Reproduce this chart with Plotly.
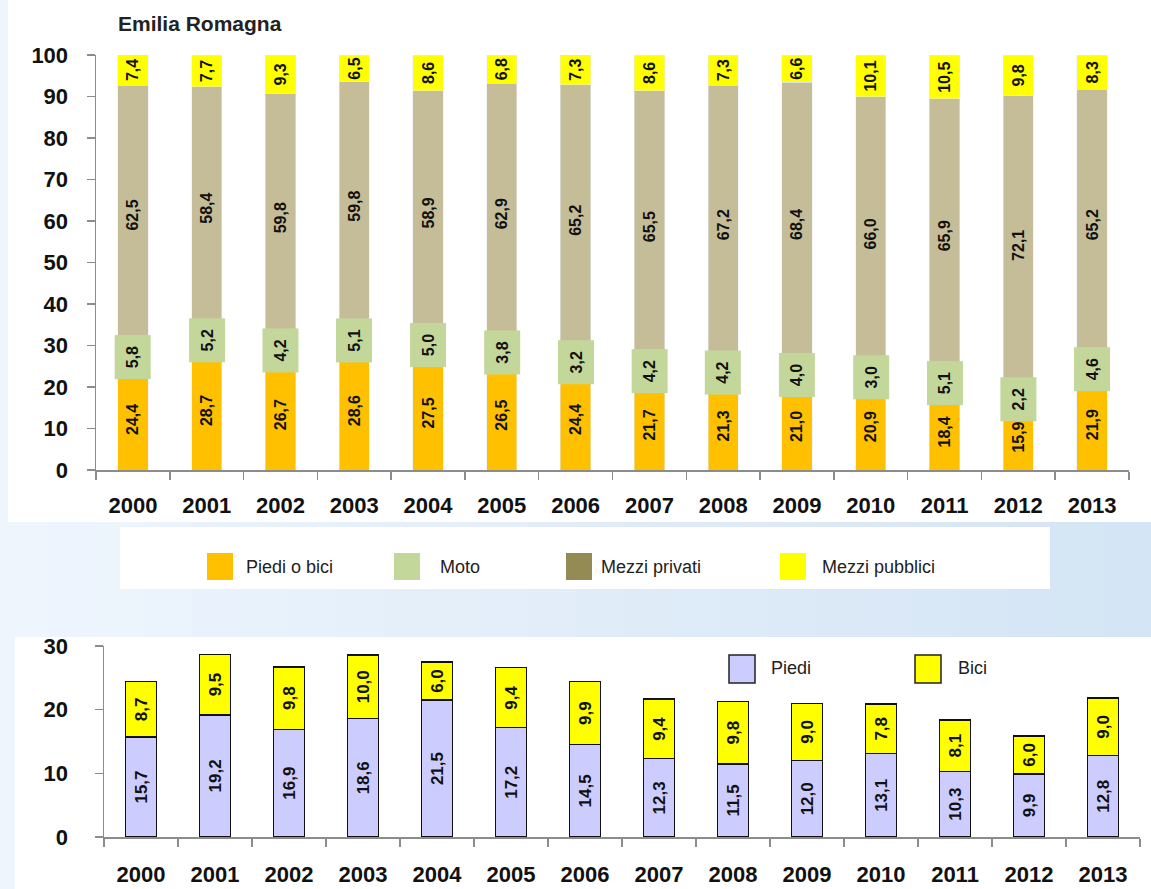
import plotly.graph_objects as go

W, H = 1151, 889

years = [str(y) for y in range(2000, 2014)]

# Top chart (Emilia Romagna) - % shares
piedi_o_bici = [24.4, 28.7, 26.7, 28.6, 27.5, 26.5, 24.4, 21.7, 21.3, 21.0, 20.9, 18.4, 15.9, 21.9]
moto = [5.8, 5.2, 4.2, 5.1, 5.0, 3.8, 3.2, 4.2, 4.2, 4.0, 3.0, 5.1, 2.2, 4.6]
mezzi_privati = [62.5, 58.4, 59.8, 59.8, 58.9, 62.9, 65.2, 65.5, 67.2, 68.4, 66.0, 65.9, 72.1, 65.2]
mezzi_pubblici = [7.4, 7.7, 9.3, 6.5, 8.6, 6.8, 7.3, 8.6, 7.3, 6.6, 10.1, 10.5, 9.8, 8.3]

# Bottom chart - split of Piedi o bici
piedi = [15.7, 19.2, 16.9, 18.6, 21.5, 17.2, 14.5, 12.3, 11.5, 12.0, 13.1, 10.3, 9.9, 12.8]
bici = [8.7, 9.5, 9.8, 10.0, 6.0, 9.4, 9.9, 9.4, 9.8, 9.0, 7.8, 8.1, 6.0, 9.0]

top_legend = ["Piedi o bici", "Moto", "Mezzi privati", "Mezzi pubblici"]
bottom_legend = ["Piedi", "Bici"]
title_text = "Emilia Romagna"

C_ORANGE = "#FFC000"
C_GREEN = "#C4D79B"
C_BEIGE = "#C4BD97"
C_OLIVE = "#948A54"
C_YELLOW = "#FFFF00"
C_LAV = "#CCCCFF"

FONT = "Liberation Sans, Arial, sans-serif"


def fmt(v):
    return f"{v:.1f}".replace(".", ",")


def px(x):
    return x / W


def py(y):
    return 1 - y / H


fig = go.Figure()

lab_font = dict(family=FONT, size=16, color="#111", weight="bold")
lab_font2 = dict(family=FONT, size=17, color="#111", weight="bold")

# --- top stacked bars ---
fig.add_trace(go.Bar(x=years, y=piedi_o_bici, marker_color=C_ORANGE, width=0.41,
                     text=[fmt(v) for v in piedi_o_bici], textangle=-90,
                     textposition="inside", insidetextanchor="middle",
                     textfont=lab_font, xaxis="x", yaxis="y", showlegend=False))
fig.add_trace(go.Bar(x=years, y=moto, marker_color=C_GREEN, width=0.41,
                     xaxis="x", yaxis="y", showlegend=False))
fig.add_trace(go.Bar(x=years, y=mezzi_privati, marker_color=C_BEIGE, width=0.41,
                     text=[fmt(v) for v in mezzi_privati], textangle=-90,
                     textposition="inside", insidetextanchor="middle",
                     textfont=lab_font, xaxis="x", yaxis="y", showlegend=False))
fig.add_trace(go.Bar(x=years, y=mezzi_pubblici, marker_color=C_YELLOW, width=0.41,
                     text=[fmt(v) for v in mezzi_pubblici], textangle=-90,
                     textposition="inside", insidetextanchor="middle",
                     textfont=lab_font, xaxis="x", yaxis="y", showlegend=False))

# --- bottom stacked bars ---
fig.add_trace(go.Bar(x=years, y=piedi, marker=dict(color=C_LAV, line=dict(color="#111", width=1.5)),
                     width=0.42, text=[fmt(v) for v in piedi], textangle=-90,
                     textposition="inside", insidetextanchor="middle",
                     textfont=lab_font2, xaxis="x2", yaxis="y2", showlegend=False))
fig.add_trace(go.Bar(x=years, y=bici, marker=dict(color=C_YELLOW, line=dict(color="#111", width=1.5)),
                     width=0.42, text=[fmt(v) for v in bici], textangle=-90,
                     textposition="inside", insidetextanchor="middle",
                     textfont=lab_font2, xaxis="x2", yaxis="y2", showlegend=False))

annotations = []
# Moto labels with green background boxes (Excel-style data labels)
for i, (pb, m) in enumerate(zip(piedi_o_bici, moto)):
    annotations.append(dict(x=i, y=pb + m / 2, xref="x", yref="y", text=fmt(m),
                            textangle=-90, showarrow=False, bgcolor=C_GREEN,
                            width=41, height=33, borderpad=1,
                            font=lab_font))

# Title
annotations.append(dict(x=px(116), y=py(23), xref="paper", yref="paper", text=title_text,
                        showarrow=False, xanchor="left", yanchor="middle",
                        font=dict(family=FONT, size=21, color="#222", weight="bold")))

shapes = []
# light-blue background gradient (left lighter, right darker)
n_bands = 24
c0 = (0xEE, 0xF5, 0xFD)
c1 = (0xD4, 0xE5, 0xF5)
for k in range(n_bands):
    t = k / (n_bands - 1)
    col = "rgb({},{},{})".format(*[round(a + (b - a) * t) for a, b in zip(c0, c1)])
    shapes.append(dict(type="rect", xref="paper", yref="paper", x0=k / n_bands, x1=(k + 1) / n_bands + 0.002,
                       y0=0, y1=1, fillcolor=col, line=dict(width=0), layer="below"))

shapes += [
    # white panels
    dict(type="rect", xref="paper", yref="paper", x0=px(8), x1=px(1151), y0=py(522), y1=py(0),
         fillcolor="white", line=dict(width=0), layer="below"),
    dict(type="rect", xref="paper", yref="paper", x0=px(120), x1=px(1050), y0=py(589), y1=py(527),
         fillcolor="white", line=dict(width=0), layer="below"),
    dict(type="rect", xref="paper", yref="paper", x0=px(15), x1=px(1151), y0=py(889), y1=py(637),
         fillcolor="white", line=dict(width=0), layer="below"),
]

# top legend
leg_items = [(207, 244, C_ORANGE), (394, 438, C_GREEN), (566, 599, C_OLIVE), (780, 820, C_YELLOW)]
for (sx, tx, col), name in zip(leg_items, top_legend):
    shapes.append(dict(type="rect", xref="paper", yref="paper", x0=px(sx), x1=px(sx + 26),
                       y0=py(580), y1=py(553), fillcolor=col, line=dict(width=0)))
    annotations.append(dict(x=px(tx), y=py(567), xref="paper", yref="paper", text=name,
                            showarrow=False, xanchor="left", yanchor="middle",
                            font=dict(family=FONT, size=18, color="#222")))

# bottom legend
bleg_items = [(729, 769, C_LAV), (915, 956, C_YELLOW)]
for (sx, tx, col), name in zip(bleg_items, bottom_legend):
    shapes.append(dict(type="rect", xref="paper", yref="paper", x0=px(sx), x1=px(sx + 26),
                       y0=py(683), y1=py(655), fillcolor=col, line=dict(color="#222", width=1.5)))
    annotations.append(dict(x=px(tx), y=py(668), xref="paper", yref="paper", text=name,
                            showarrow=False, xanchor="left", yanchor="middle",
                            font=dict(family=FONT, size=18, color="#222")))

tick_font = dict(family=FONT, size=22, color="#111", weight="bold")
axis_common = dict(showline=True, linecolor="#8c8c8c", linewidth=1.5, ticks="outside",
                   tickcolor="#8c8c8c", ticklen=8, tickwidth=1.5, showgrid=False,
                   zeroline=False, tickfont=tick_font, fixedrange=True, automargin=False)

fig.update_layout(
    width=W, height=H,
    margin=dict(l=0, r=0, t=0, b=0, autoexpand=False),
    paper_bgcolor="#E1EDF9",
    plot_bgcolor="rgba(0,0,0,0)",
    barmode="stack",
    bargap=0.0,
    uniformtext=dict(minsize=16, mode="show"),
    xaxis=dict(domain=[px(96), px(1129)], anchor="y", type="category", range=[-0.5, 13.5],
               tickangle=0, tickson="boundaries", ticklabelstandoff=15, **axis_common),
    yaxis=dict(domain=[py(470), py(55)], anchor="x", range=[0, 100], dtick=10,
               ticklabelstandoff=14, **axis_common),
    xaxis2=dict(domain=[px(104), px(1140)], anchor="y2", type="category", range=[-0.5, 13.5],
                tickangle=0, tickson="boundaries", ticklabelstandoff=17, **axis_common),
    yaxis2=dict(domain=[py(837), py(646)], anchor="x2", range=[0, 30], dtick=10,
                ticklabelstandoff=22, **axis_common),
    shapes=shapes,
    annotations=annotations,
)

fig.write_html(
    "out.html",
    config={"displayModeBar": False, "staticPlot": True},
    post_script="document.body.style.margin='0';document.body.style.padding='0';"
                "document.body.style.overflow='hidden';"
                "document.documentElement.style.overflow='hidden';",
)
